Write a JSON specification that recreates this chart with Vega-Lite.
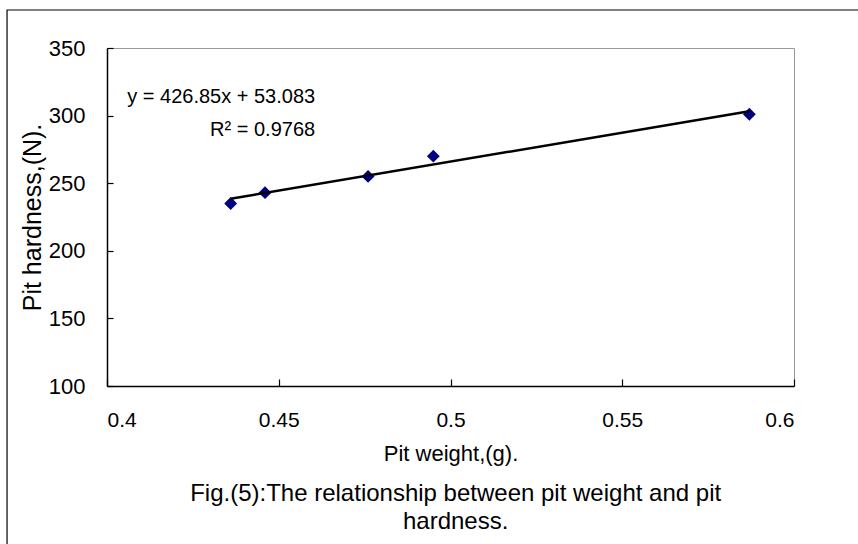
{
  "$schema": "https://vega.github.io/schema/vega-lite/v6.json",
  "width": 687,
  "height": 338,
  "autosize": {"type": "none"},
  "padding": {"left": 107, "top": 48, "right": 64, "bottom": 158},
  "background": "white",
  "config": {
    "font": "Liberation Sans",
    "view": {"stroke": "#999999", "strokeWidth": 1},
    "axis": {
      "grid": false,
      "ticks": true,
      "domainColor": "black",
      "domainWidth": 1.5,
      "tickColor": "black",
      "tickWidth": 1.2,
      "labelColor": "black",
      "titleColor": "black",
      "labelFont": "Liberation Sans",
      "titleFont": "Liberation Sans",
      "titleFontWeight": "normal"
    }
  },
  "layer": [
    {
      "data": {
        "values": [
          {"weight": 0.436, "hardness": 235},
          {"weight": 0.446, "hardness": 243},
          {"weight": 0.476, "hardness": 255},
          {"weight": 0.495, "hardness": 270},
          {"weight": 0.587, "hardness": 301}
        ]
      },
      "encoding": {
        "x": {
          "field": "weight",
          "type": "quantitative",
          "scale": {"domain": [0.4, 0.6], "nice": false, "zero": false},
          "axis": {
            "title": "Pit weight,(g).",
            "values": [0.4, 0.45, 0.5, 0.55, 0.6],
            "format": "~g",
            "labelFontSize": 21,
            "titleFontSize": 22,
            "ticks": true,
            "tickSize": -7,
            "labelPadding": 30,
            "titlePadding": 13
          }
        },
        "y": {
          "field": "hardness",
          "type": "quantitative",
          "scale": {"domain": [100, 350], "nice": false, "zero": false},
          "axis": {
            "title": "Pit hardness,(N).",
            "values": [100, 150, 200, 250, 300, 350],
            "labelFontSize": 22,
            "titleFontSize": 25,
            "ticks": true,
            "tickSize": -6,
            "labelPadding": 28,
            "titlePadding": 3
          }
        }
      },
      "layer": [
        {
          "mark": {"type": "point", "shape": "diamond", "filled": true, "color": "#000080", "size": 165, "opacity": 1}
        },
        {
          "transform": [{"regression": "hardness", "on": "weight"}],
          "mark": {"type": "line", "color": "black", "strokeWidth": 2.5}
        }
      ]
    },
    {
      "data": {"values": [{}]},
      "mark": {"type": "text", "align": "right", "baseline": "middle", "fontSize": 20, "color": "black", "font": "Liberation Sans"},
      "encoding": {
        "x": {"datum": 0.4606, "type": "quantitative"},
        "y": {"datum": 313.8, "type": "quantitative"},
        "text": {"value": "y = 426.85x + 53.083"}
      }
    },
    {
      "data": {"values": [{}]},
      "mark": {"type": "text", "align": "right", "baseline": "middle", "fontSize": 20, "color": "black", "font": "Liberation Sans"},
      "encoding": {
        "x": {"datum": 0.4606, "type": "quantitative"},
        "y": {"datum": 289.3, "type": "quantitative"},
        "text": {"value": "R² = 0.9768"}
      }
    },
    {
      "data": {"values": [{}]},
      "mark": {"type": "text", "align": "center", "baseline": "alphabetic", "fontSize": 24, "lineHeight": 28, "color": "black", "font": "Liberation Sans", "clip": false},
      "encoding": {
        "x": {"datum": 0.5015, "type": "quantitative"},
        "y": {"datum": 14.9, "type": "quantitative"},
        "text": {"value": ["Fig.(5):The relationship between pit weight and pit", "hardness."]}
      }
    },
    {
      "data": {"values": [{}]},
      "mark": {"type": "rect", "fill": null, "stroke": "black", "strokeWidth": 1.2, "clip": false},
      "encoding": {
        "x": {"datum": 0.3709, "type": "quantitative"},
        "x2": {"datum": 0.625},
        "y": {"datum": 378.1, "type": "quantitative"},
        "y2": {"datum": -30}
      }
    }
  ]
}
